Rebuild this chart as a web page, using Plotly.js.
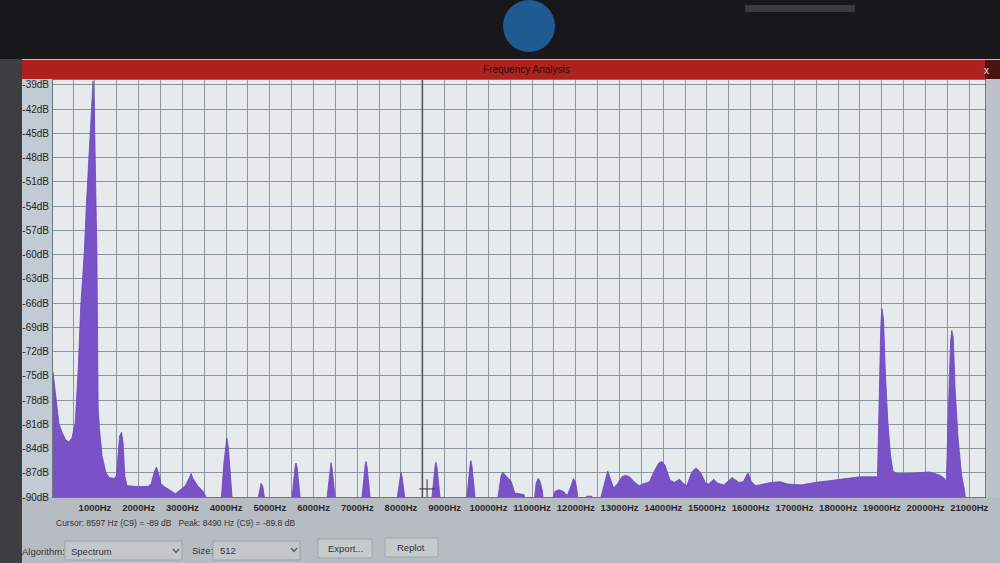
<!DOCTYPE html>
<html>
<head>
<meta charset="utf-8">
<script src="https://cdn.plot.ly/plotly-3.0.1.min.js"></script>
<style>html,body{margin:0;padding:0;background:#bcc2c8;}#chart{width:1000px;height:563px;}</style>
</head>
<body>
<div id="chart"></div>
<script>
// ---- Spectrum readings (frequency in Hz, level in dB) ----
const FREQ_HZ = [
  40, 110, 175, 251, 327, 400, 473, 549, 584, 622, 673, 756, 807, 860, 918, 956,
  984, 1016, 1044, 1060, 1073, 1104, 1162, 1251, 1327, 1438, 1489, 1562, 1607, 1644, 1682, 1733,
  1956, 2215, 2289, 2362, 2407, 2451, 2511, 2584, 2733, 2844, 2956, 3067, 3162, 3200, 3251, 3362,
  3473, 3560, 3600,
  3880, 3950, 3990, 4016, 4050, 4100, 4150,
  4700, 4760, 4800, 4840, 4900,
  5490, 5545, 5585, 5600, 5625, 5665, 5710,
  6290, 6345, 6385, 6400, 6425, 6465, 6510,
  7090, 7145, 7185, 7200, 7225, 7265, 7310,
  7890, 7945, 7985, 8000, 8025, 8065, 8110,
  8690, 8745, 8785, 8800, 8825, 8865, 8910,
  9490, 9545, 9585, 9600, 9625, 9665, 9710,
  10192, 10246, 10292, 10331, 10385, 10463, 10525, 10603, 10696, 10812, 10890,
  11038, 11092, 11138, 11177, 11231, 11269,
  11423, 11523, 11615, 11708, 11808, 11885, 11946, 12000, 12045, 12075,
  12220, 12250, 12370, 12400,
  12526, 12639, 12729, 12789, 12865, 12962, 13055, 13134, 13228, 13331, 13449, 13528, 13685, 13803,
  13898, 13962, 14038, 14154, 14254, 14369, 14477, 14538, 14654, 14746, 14846, 14962, 15038, 15154,
  15246, 15385, 15577, 15731, 15831, 15938, 16015, 16115, 16269, 16462, 16677, 16846, 17157, 17472,
  17787, 18102, 18417, 18496, 18883, 18900,
  18929, 18952, 18976, 19000, 19040, 19079, 19136, 19198, 19255, 19317,
  19360, 19600, 19840, 20080, 20333, 20433,
  20475, 20508, 20550, 20575, 20600, 20633, 20675, 20743, 20825, 20893, 20925,
  21360
];
const LEVEL_DB = [
  -74.5, -77.8, -80.9, -82.05, -82.9, -83.2, -82.7, -80.8, -77.9, -73.6, -66.6, -59.7, -53.5, -47.7, -41.8, -38.5,
  -41.8, -50.1, -59.6, -70.8, -79.0, -81.6, -84.9, -87.0, -87.6, -87.7, -87.4, -82.5, -82.0, -83.3, -87.4, -88.6,
  -88.7, -88.7, -88.3, -86.8, -86.3, -87.0, -88.4, -88.7, -89.2, -89.6, -89.1, -88.6, -87.6, -87.1, -87.8, -88.7,
  -89.3, -90.2, -91,
  -91, -85.8, -83.3, -82.7, -83.8, -87.4, -91,
  -91, -89.3, -88.3, -88.7, -91,
  -91, -87.8, -86.0, -85.8, -86.4, -88.5, -91,
  -91, -87.9, -86.1, -85.75, -86.5, -88.6, -91,
  -91, -87.6, -85.9, -85.6, -86.3, -88.4, -91,
  -91, -88.6, -87.2, -86.95, -87.5, -89.2, -91,
  -91, -87.8, -86.0, -85.7, -86.4, -88.5, -91,
  -91, -87.6, -85.8, -85.5, -86.2, -88.4, -91,
  -91, -88.7, -87.3, -86.96, -87.3, -87.7, -88.1, -89.5, -89.6, -89.7, -91,
  -91, -88.3, -87.7, -88.0, -89.1, -91,
  -91, -89.3, -89.1, -89.3, -89.8, -88.7, -87.7, -88.3, -90.0, -91,
  -91, -89.9, -89.9, -91,
  -91, -88.5, -86.8, -87.7, -88.9, -88.3, -87.5, -87.3, -87.5, -88.1, -88.6, -88.4, -88.1, -86.7,
  -85.8, -85.6, -86.05, -87.9, -88.2, -87.8, -88.4, -88.6, -86.9, -86.4, -86.9, -88.2, -88.4, -87.8,
  -88.3, -88.5, -87.6, -88.2, -88.1, -87.0, -88.1, -88.6, -88.4, -88.2, -88.1, -88.4, -88.5, -88.2,
  -88.0, -87.8, -87.6, -87.5, -87.5, -87.6,
  -80.6, -74.4, -69.0, -66.7, -68.1, -74.4, -80.6, -84.8, -86.8, -87.0,
  -87.1, -87.1, -87.0, -86.9, -87.3, -87.7,
  -88.1, -80.6, -74.4, -70.6, -69.4, -70.2, -76.5, -82.7, -87.3, -89.2, -91,
  -91
];
const FLOOR_DB = -91;

// ---- Axis ticks ----
const X_TICKS = [1000,2000,3000,4000,5000,6000,7000,8000,9000,10000,11000,12000,13000,14000,15000,16000,17000,18000,19000,20000,21000];
const X_TICK_LABELS = X_TICKS.map(v => v + 'Hz');
const Y_TICKS = [-39,-42,-45,-48,-51,-54,-57,-60,-63,-66,-69,-72,-75,-78,-81,-84,-87,-90];
const Y_TICK_LABELS = Y_TICKS.map(v => v + 'dB');
const X_RANGE = [40, 21360];
const Y_RANGE = [-90, -38.4];

// ---- Readout ----
const CURSOR_HZ = 8597, CURSOR_DB = -89;
const PEAK_HZ = 8490, PEAK_DB = -89.8;
const CURSOR_TEXT = 'Cursor: 8597 Hz (C9) = -89 dB&nbsp;&nbsp;&nbsp;Peak: 8490 Hz (C9) = -89.8 dB';

// pixel -> paper helpers (plot area: x 53..985, y 80..497)
const L = 53, R = 985, T = 80, B = 497;
const px = x => (x - L) / (R - L);
const py = y => (B - y) / (B - T);

const FONT = 'Liberation Sans, Arial, sans-serif';

function rect(x0, y0, x1, y1, fill, line, layer) {
  return {type:'rect', xref:'paper', yref:'paper', x0:px(x0), x1:px(x1), y0:py(y1), y1:py(y0),
          fillcolor:fill, line:{width: line ? 1 : 0, color: line || fill}, layer: layer || 'below'};
}
function chevron(cx, cy) {
  return {type:'path', xref:'paper', yref:'paper', layer:'above',
    path:`M ${px(cx-3)} ${py(cy-2)} L ${px(cx)} ${py(cy+1.5)} L ${px(cx+3)} ${py(cy-2)}`,
    line:{color:'#555a60', width:1.2}};
}
function label(x, y, text, size, color, anchor) {
  return {xref:'paper', yref:'paper', x:px(x), y:py(y), text:text, showarrow:false,
          xanchor: anchor || 'left', yanchor:'middle',
          font:{family:FONT, size:size, color:color}};
}

const shapes = [
  // laptop bezel and webcam
  rect(0, 0, 1000, 59, '#18181a'),
  {type:'circle', xref:'paper', yref:'paper', x0:px(503), x1:px(555), y0:py(52), y1:py(0),
   fillcolor:'#1f5b93', line:{width:0}, layer:'below'},
  rect(745, 5, 855, 12, '#3a3b3e'),
  // left dark edge
  rect(0, 59, 22, 563, '#3d3e42'),
  // title bar
  rect(22, 60, 985, 79, '#ad221e'),
  rect(985, 60, 1000, 79, '#4a1412'),
  // y label panel
  rect(22, 79, 53, 497, '#c2cad3'),
  // bottom panel
  rect(22, 497, 1000, 563, '#b7bcc2'),
  // dropdowns and buttons
  rect(65, 541, 182, 560, '#c3c7cb', '#9ba1a7', 'above'),
  rect(213, 541, 300, 560, '#c3c7cb', '#9ba1a7', 'above'),
  rect(318, 539, 372, 558, '#c6cacd', '#a1a6ab', 'above'),
  rect(385, 538, 438, 557, '#c6cacd', '#a1a6ab', 'above'),
  chevron(176, 551), chevron(294, 550),
  // peak marker line and cursor crosshair
  {type:'line', xref:'x', yref:'paper', x0:PEAK_HZ, x1:PEAK_HZ, y0:0, y1:1,
   line:{color:'#4f5966', width:1.6}, layer:'above'},
  {type:'line', xref:'x', yref:'y', x0:CURSOR_HZ-180, x1:CURSOR_HZ+180, y0:CURSOR_DB, y1:CURSOR_DB,
   line:{color:'#333', width:1}, layer:'above'},
  {type:'line', xref:'x', yref:'y', x0:CURSOR_HZ, x1:CURSOR_HZ, y0:CURSOR_DB-1.2, y1:CURSOR_DB+1.2,
   line:{color:'#333', width:1}, layer:'above'}
];

const annotations = [
  label(526, 70, 'Frequency Analysis', 10, '#2e0a0a', 'center'),
  label(986, 71, 'x', 10, '#e8e8e8', 'center'),
  label(54, 523, CURSOR_TEXT, 8.5, '#333'),
  label(20, 551, 'Algorithm:', 9.5, '#333'),
  label(69, 551, 'Spectrum', 9.5, '#333'),
  label(190, 550, 'Size:', 9.5, '#333'),
  label(218, 550, '512', 9.5, '#333'),
  label(345, 548, 'Export...', 9.5, '#333', 'center'),
  label(411, 547, 'Replot', 9.5, '#333', 'center')
];

const traces = [
  {x:[X_RANGE[0], X_RANGE[1]], y:[FLOOR_DB, FLOOR_DB], type:'scatter', mode:'lines',
   line:{width:0, color:'#7b56c9'}, hoverinfo:'skip', showlegend:false},
  {x:FREQ_HZ, y:LEVEL_DB, type:'scatter', mode:'lines', fill:'tonexty',
   fillcolor:'#7852c6', line:{color:'#6a44bd', width:0.8}, showlegend:false, name:'Spectrum'}
];

const layout = {
  width:1000, height:563,
  margin:{l:L, r:1000-R, t:T, b:563-B, pad:0},
  paper_bgcolor:'#bcc2c8',
  plot_bgcolor:'#e6eaec',
  showlegend:false,
  font:{family:FONT, size:10, color:'#262626'},
  xaxis:{
    range:X_RANGE, tickmode:'array', tickvals:X_TICKS, ticktext:X_TICK_LABELS,
    tickangle:0,
    showgrid:true, gridcolor:'#8b96a1', gridwidth:1,
    minor:{tick0:0, dtick:500, showgrid:true, gridcolor:'#8b96a1', gridwidth:1, ticks:''},
    zeroline:false, showline:true, mirror:true, linecolor:'#6c7782', linewidth:1,
    ticks:'', ticklabelstandoff:2,
    tickfont:{family:FONT, size:9.5, color:'#2a2a2a', weight:'bold'}
  },
  yaxis:{
    range:Y_RANGE, tickmode:'array', tickvals:Y_TICKS, ticktext:Y_TICK_LABELS,
    showgrid:true, gridcolor:'#8b96a1', gridwidth:1,
    zeroline:false, showline:true, mirror:true, linecolor:'#6c7782', linewidth:1,
    ticks:'', ticklabelstandoff:1,
    tickfont:{family:FONT, size:10, color:'#262626'}
  },
  shapes:shapes,
  annotations:annotations
};

Plotly.newPlot('chart', traces, layout, {displayModeBar:false, staticPlot:true});
</script>
</body>
</html>
